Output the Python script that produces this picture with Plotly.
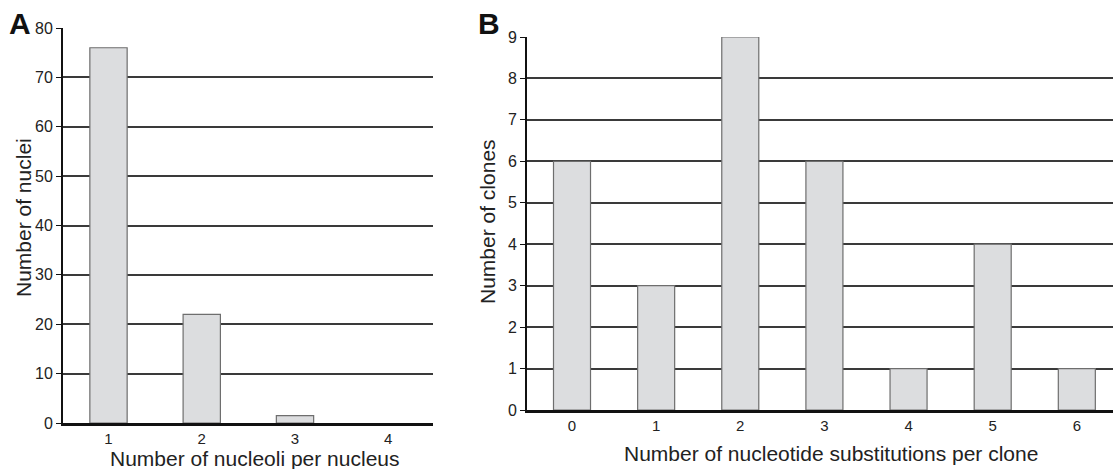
import plotly.graph_objects as go

# Panel A data
a_categories = [1, 2, 3, 4]
a_values = [76, 22, 1.5, 0]
a_ticks = [0, 10, 20, 30, 40, 50, 60, 70, 80]

# Panel B data
b_categories = [0, 1, 2, 3, 4, 5, 6]
b_values = [6, 3, 9, 6, 1, 4, 1]
b_ticks = [0, 1, 2, 3, 4, 5, 6, 7, 8, 9]

FONT = "Liberation Sans, Arial, sans-serif"
BAR_FILL = "#dcdddf"
BAR_LINE = "#6e6e6e"
GRID = "#3a3a3a"
TXT = "#222"

fig = go.Figure()
fig.add_trace(go.Bar(x=a_categories, y=a_values, width=0.40, xaxis="x", yaxis="y",
                     marker=dict(color=BAR_FILL,
                                 line=dict(color=BAR_LINE,
                                           width=[1.2 if v > 0 else 0 for v in a_values])),
                     showlegend=False, hoverinfo="skip"))
fig.add_trace(go.Bar(x=b_categories, y=b_values, width=0.44, xaxis="x2", yaxis="y2",
                     marker=dict(color=BAR_FILL, line=dict(color=BAR_LINE, width=1.2)),
                     showlegend=False, hoverinfo="skip"))

W, H = 1113, 469
def px_x(a, b):
    return [a / W, b / W]
def px_y(top, bottom):
    return [1 - bottom / H, 1 - top / H]
def py(y):
    return 1 - y / H

common_y = dict(showgrid=True, gridcolor=GRID, gridwidth=1.5, showline=True, linecolor="#111",
                linewidth=2, ticks="outside", ticklen=5, tickcolor="#111", tickwidth=1,
                tickfont=dict(family=FONT, size=16, color=TXT), zeroline=False,
                automargin=False)
common_x = dict(showgrid=False, showline=True, linecolor="#111", linewidth=2.5, ticks="",
                tickfont=dict(family=FONT, size=15, color=TXT), zeroline=False,
                automargin=False)

def ann(text, x, y, size, angle=0, bold=False, xanchor="center", yanchor="middle"):
    return dict(text=text, x=x / W, y=py(y), xref="paper", yref="paper",
                xanchor=xanchor, yanchor=yanchor, showarrow=False, textangle=angle,
                font=dict(family=FONT, size=size, color="#111" if bold else TXT))

fig.update_layout(
    width=W, height=H, margin=dict(l=0, r=0, t=0, b=0),
    paper_bgcolor="white", plot_bgcolor="white",
    font=dict(family=FONT, color=TXT),
    xaxis=dict(domain=px_x(63, 433), range=[0.512, 4.48], anchor="y",
               tickvals=a_categories, ticktext=[str(c) for c in a_categories],
               **common_x),
    yaxis=dict(domain=px_y(28, 423), range=[0, 80], anchor="x",
               tickvals=a_ticks, ticktext=[str(t) for t in a_ticks],
               **common_y),
    xaxis2=dict(domain=px_x(527, 1113), range=[-0.535, 6.43], anchor="y2",
                tickvals=b_categories, ticktext=[str(c) for c in b_categories],
                **common_x),
    yaxis2=dict(domain=px_y(37, 410), range=[0, 9], anchor="x2",
                tickvals=b_ticks, ticktext=[str(t) for t in b_ticks],
                **common_y),
    annotations=[
        ann("<b>A</b>", 7, 5, 30, bold=True, xanchor="left", yanchor="top"),
        ann("<b>B</b>", 476, 5, 30, bold=True, xanchor="left", yanchor="top"),
        ann("Number of nucleoli per nucleus", 255, 458, 21),
        ann("Number of nucleotide substitutions per clone", 831, 453, 21),
        ann("Number of nuclei", 24, 218, 21, angle=-90),
        ann("Number of clones", 488, 222, 21, angle=-90),
    ],
)

fig.write_html("out.html", config={"displayModeBar": False},
               post_script="document.body.style.margin='0px';document.body.style.overflow='hidden';")
